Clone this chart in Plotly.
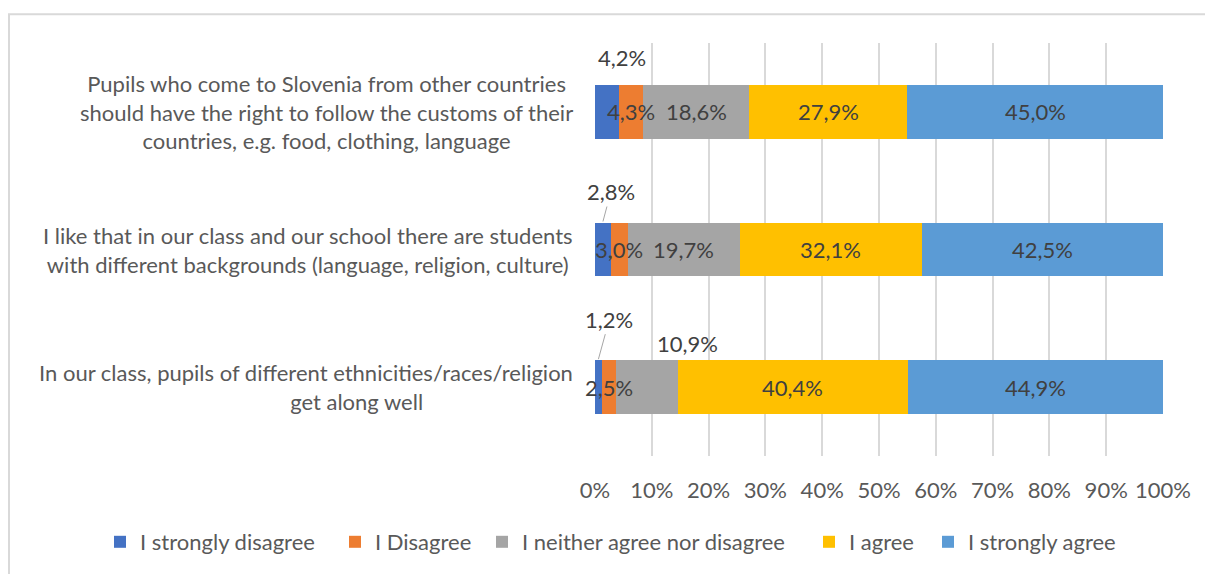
import plotly.graph_objects as go

# Survey statements (drawn as multi-line labels to the left of the bars)
questions = [
    "Pupils who come to Slovenia from other countries<br>should have the right to follow the customs of their<br>countries, e.g. food, clothing, language",
    "I like that in our class and our school there are students<br>with different backgrounds (language, religion, culture)",
    "In our class, pupils of different ethnicities/races/religion<br>" + "\u00a0" * 18 + "get along well",
]
series_names = ["I strongly disagree", "I Disagree", "I neither agree nor disagree", "I agree", "I strongly agree"]

# Share of answers (%) per statement
strongly_disagree = [4.2, 2.8, 1.2]
disagree = [4.3, 3.0, 2.5]
neither = [18.6, 19.7, 10.9]
agree = [27.9, 32.1, 40.4]
strongly_agree = [45.0, 42.5, 44.9]

tick_vals = [0, 10, 20, 30, 40, 50, 60, 70, 80, 90, 100]
tick_text = ["0%", "10%", "20%", "30%", "40%", "50%", "60%", "70%", "80%", "90%", "100%"]

series = [strongly_disagree, disagree, neither, agree, strongly_agree]
colors = ["#4472C4", "#ED7D31", "#A5A5A5", "#FFC000", "#5B9BD5"]
legend_widths = [190, 102, 282, 74, 160]

FONT = "Lato"
FS = 22
TEXT = "#595959"
LABEL = "#404040"
W, H = 1205, 574
L, R, T, B = 595, 42, 43, 117

fig = go.Figure()
for name, vals, col, lw in zip(series_names, series, colors, legend_widths):
    fig.add_trace(go.Bar(
        y=questions, x=vals, name=name, orientation="h",
        marker=dict(color=col, line=dict(width=0)),
        legendwidth=lw, hoverinfo="skip",
    ))

# (row, series) -> placement for labels that sit above the bar
outside = {
    (0, 0): dict(showarrow=False, xshift=15, yshift=54),
    (1, 0): dict(showarrow=True, yshift=28, ax=8, ay=-30),
    (2, 0): dict(showarrow=True, yshift=28, ax=11, ay=-40),
    (2, 2): dict(showarrow=False, xshift=40, yshift=44),
}

def fmt(v):
    return f"{v:.1f}".replace(".", ",") + "%"

annotations = []
for r, q in enumerate(questions):
    total = sum(s[r] for s in series)
    cum = 0.0
    for si, s in enumerate(series):
        v = s[r]
        centre = (cum + v / 2) / total * 100
        cum += v
        ann = dict(x=centre, y=q, xref="x", yref="y", text=fmt(v),
                   font=dict(family=FONT, size=FS, color=LABEL), showarrow=False)
        if (r, si) in outside:
            opt = outside[(r, si)]
            ann.update(opt)
            if opt.get("showarrow"):
                ann.update(arrowhead=0, arrowwidth=1, arrowcolor="#A6A6A6",
                           standoff=0, axref="pixel", ayref="pixel")
        annotations.append(ann)
    # statement label
    annotations.append(dict(
        x=-0.035, xref="paper", xanchor="right", y=q, yref="y", yanchor="middle",
        text=q, align="center", showarrow=False,
        font=dict(family=FONT, size=FS, color=TEXT),
    ))

pw, ph = W - L - R, H - T - B
def px_x(p):
    return (p - L) / pw
def px_y(p):
    return 1 - (p - T) / ph

fig.update_layout(
    width=W, height=H, autosize=False,
    margin=dict(l=L, r=R, t=T, b=B, pad=0),
    barmode="stack", barnorm="percent", bargap=0.61,
    paper_bgcolor="white", plot_bgcolor="white",
    font=dict(family=FONT, size=FS, color=TEXT),
    xaxis=dict(range=[0, 100], tickvals=tick_vals, ticktext=tick_text,
               showgrid=True, gridcolor="#D9D9D9", gridwidth=1.5,
               zeroline=False, showline=False,
               ticks="outside", ticklen=15, tickcolor="rgba(0,0,0,0)",
               tickfont=dict(family=FONT, size=FS, color=TEXT), fixedrange=True),
    yaxis=dict(type="category", range=[len(questions) - 0.5, -0.5],
               showticklabels=False, showgrid=False,
               zeroline=False, showline=False, fixedrange=True),
    legend=dict(orientation="h", x=px_x(100), xanchor="left",
                y=px_y(542), yanchor="middle", traceorder="normal",
                font=dict(family=FONT, size=FS, color=TEXT),
                itemwidth=30, tracegroupgap=0),
    showlegend=True,
    annotations=annotations,
    shapes=[dict(type="rect", xref="paper", yref="paper",
                 x0=px_x(9), x1=px_x(1230), y0=px_y(600), y1=px_y(14.3),
                 line=dict(color="#D9D9D9", width=2), fillcolor="rgba(0,0,0,0)",
                 layer="below")],
)

fig.write_html("out.html")
